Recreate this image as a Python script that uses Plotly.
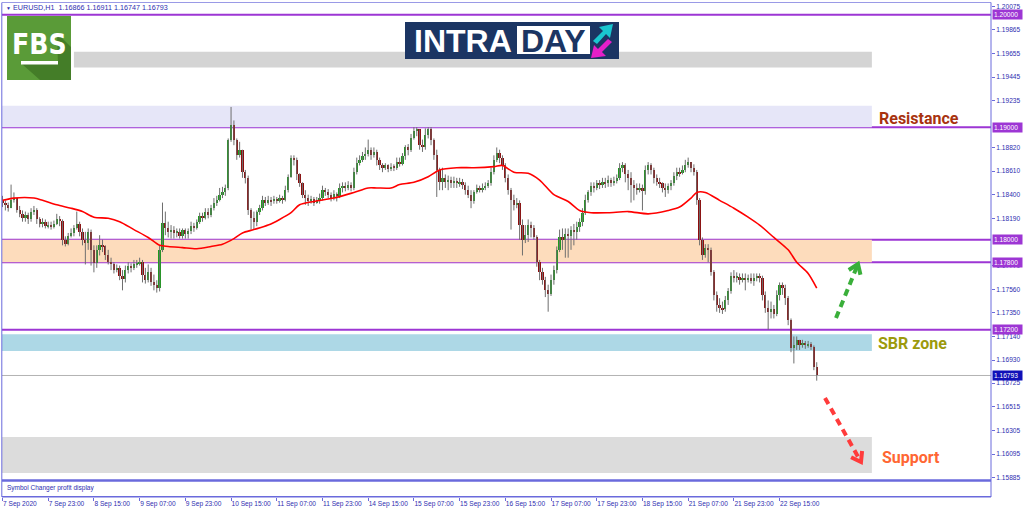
import math
import plotly.graph_objects as go

W, H = 1024, 511

# ---------------- data ----------------
OPEN_FIRST = 1.1835
CLOSE = [
    1.1833, 1.1831, 1.1828, 1.1835, 1.1837, 1.1826, 1.1823, 1.1819, 1.1822, 1.1818,
    1.1825, 1.1826, 1.1818, 1.1814, 1.1816, 1.1812, 1.1813, 1.1811, 1.1814, 1.1818,
    1.1817, 1.1800, 1.1796, 1.1803, 1.1806, 1.1810, 1.1814, 1.1807, 1.1800, 1.1797,
    1.1807, 1.1791, 1.1779, 1.1791, 1.1795, 1.1794, 1.1786, 1.1780, 1.1778, 1.1773,
    1.1775, 1.1768, 1.1765, 1.1773, 1.1777, 1.1775, 1.1778, 1.1778, 1.1780, 1.1769,
    1.1764, 1.1771, 1.1762, 1.1760, 1.1757, 1.1791, 1.1815, 1.1810, 1.1807, 1.1809,
    1.1806, 1.1807, 1.1803, 1.1809, 1.1805, 1.1808, 1.1812, 1.1810, 1.1816, 1.1821,
    1.1819, 1.1825, 1.1822, 1.1828, 1.1833, 1.1835, 1.1840, 1.1842, 1.1846, 1.1889,
    1.1902, 1.1889, 1.1875, 1.1880, 1.1860, 1.1855, 1.1826, 1.1819, 1.1816, 1.1825,
    1.1828, 1.1835, 1.1833, 1.1835, 1.1834, 1.1836, 1.1834, 1.1837, 1.1835, 1.1844,
    1.1856, 1.1873, 1.1871, 1.1858, 1.1850, 1.1840, 1.1837, 1.1834, 1.1836, 1.1833,
    1.1835, 1.1837, 1.1844, 1.1842, 1.1840, 1.1837, 1.1841, 1.1839, 1.1846, 1.1848,
    1.1846, 1.1849, 1.1846, 1.1860, 1.1868, 1.1871, 1.1874, 1.1876, 1.1880, 1.1875,
    1.1878, 1.1871, 1.1866, 1.1864, 1.1866, 1.1863, 1.1865, 1.1864, 1.1869, 1.1867,
    1.1874, 1.1882, 1.1880, 1.1890, 1.1897, 1.1898, 1.1884, 1.1882, 1.1893, 1.1898,
    1.1889, 1.1875, 1.1862, 1.1851, 1.1855, 1.1851, 1.1853, 1.1850, 1.1852, 1.1850,
    1.1851, 1.1849, 1.1844, 1.1840, 1.1834, 1.1842, 1.1846, 1.1844, 1.1846, 1.1848,
    1.1850, 1.1860, 1.1871, 1.1877, 1.1873, 1.1866, 1.1855, 1.1844, 1.1835, 1.1831,
    1.1833, 1.1813, 1.1800, 1.1804, 1.1813, 1.1810, 1.1802, 1.1780, 1.1771, 1.1764,
    1.1755, 1.1752, 1.1764, 1.1773, 1.1791, 1.1802, 1.1800, 1.1805, 1.1803, 1.1809,
    1.1807, 1.1811, 1.1816, 1.1824, 1.1835, 1.1842, 1.1848, 1.1846, 1.1850, 1.1849,
    1.1851, 1.1850, 1.1853, 1.1850, 1.1852, 1.1855, 1.1864, 1.1866, 1.1858, 1.1855,
    1.1849, 1.1846, 1.1844, 1.1846, 1.1843, 1.1862, 1.1866, 1.1862, 1.1855, 1.1851,
    1.1850, 1.1846, 1.1844, 1.1848, 1.1850, 1.1857, 1.1860, 1.1859, 1.1862, 1.1866,
    1.1869, 1.1864, 1.1860, 1.1835, 1.1800, 1.1786, 1.1793, 1.1791, 1.1771, 1.1751,
    1.1742, 1.1739, 1.1738, 1.1746, 1.1754, 1.1768, 1.1766, 1.1767, 1.1764, 1.1766,
    1.1764, 1.1766, 1.1763, 1.1766, 1.1767, 1.1766, 1.1751, 1.1739, 1.1736, 1.1738,
    1.1734, 1.1751, 1.1760, 1.1757, 1.1748, 1.1729, 1.1704, 1.1706, 1.1711, 1.1706,
    1.1708, 1.1706, 1.1707, 1.1705, 1.16866, 1.16793,
]
HIGH = [
    1.1839, 1.1835, 1.1833, 1.1849, 1.1842, 1.1837, 1.1830, 1.1826, 1.1825, 1.1824,
    1.1828, 1.1830, 1.1828, 1.1820, 1.1819, 1.1818, 1.1816, 1.1816, 1.1817, 1.1823,
    1.1821, 1.1818, 1.1803, 1.1806, 1.1810, 1.1813, 1.1825, 1.1816, 1.1810, 1.1807,
    1.1810, 1.1809, 1.1795, 1.1795, 1.1804, 1.1800, 1.1795, 1.1791, 1.1784, 1.1780,
    1.1778, 1.1777, 1.1773, 1.1777, 1.1780, 1.1779, 1.1782, 1.1782, 1.1784, 1.1782,
    1.1775, 1.1778, 1.1775, 1.1769, 1.1764, 1.1795, 1.1833, 1.1825, 1.1816, 1.1813,
    1.1812, 1.1810, 1.1810, 1.1810, 1.1810, 1.1810, 1.1816, 1.1815, 1.1818, 1.1824,
    1.1824, 1.1828, 1.1828, 1.1831, 1.1837, 1.1839, 1.1846, 1.1847, 1.1849, 1.1890,
    1.1918, 1.1906, 1.1890, 1.1887, 1.1880, 1.1862, 1.1857, 1.1828, 1.1825, 1.1826,
    1.1831, 1.1839, 1.1838, 1.1839, 1.1838, 1.1839, 1.1838, 1.1840, 1.1839, 1.1848,
    1.1858, 1.1875, 1.1875, 1.1873, 1.1859, 1.1851, 1.1844, 1.1840, 1.1839, 1.1838,
    1.1838, 1.1841, 1.1848, 1.1846, 1.1845, 1.1842, 1.1844, 1.1842, 1.1850, 1.1851,
    1.1851, 1.1852, 1.1851, 1.1864, 1.1873, 1.1875, 1.1878, 1.1882, 1.1889, 1.1882,
    1.1882, 1.1880, 1.1873, 1.1868, 1.1868, 1.1867, 1.1868, 1.1867, 1.1873, 1.1873,
    1.1877, 1.1884, 1.1885, 1.1894, 1.1900, 1.1900, 1.1898, 1.1889, 1.1899, 1.1900,
    1.1900, 1.1890, 1.1880, 1.1864, 1.1864, 1.1858, 1.1857, 1.1856, 1.1856, 1.1855,
    1.1855, 1.1854, 1.1851, 1.1848, 1.1844, 1.1844, 1.1849, 1.1848, 1.1850, 1.1851,
    1.1853, 1.1864, 1.1875, 1.1882, 1.1880, 1.1875, 1.1868, 1.1858, 1.1846, 1.1840,
    1.1837, 1.1835, 1.1818, 1.1813, 1.1818, 1.1816, 1.1813, 1.1804, 1.1782, 1.1775,
    1.1767, 1.1760, 1.1769, 1.1777, 1.1794, 1.1809, 1.1810, 1.1810, 1.1810, 1.1812,
    1.1814, 1.1816, 1.1819, 1.1828, 1.1840, 1.1844, 1.1851, 1.1851, 1.1853, 1.1853,
    1.1855, 1.1855, 1.1857, 1.1855, 1.1856, 1.1858, 1.1868, 1.1869, 1.1868, 1.1862,
    1.1860, 1.1853, 1.1850, 1.1850, 1.1849, 1.1866, 1.1869, 1.1868, 1.1864, 1.1858,
    1.1855, 1.1851, 1.1850, 1.1850, 1.1853, 1.1860, 1.1864, 1.1864, 1.1866, 1.1871,
    1.1873, 1.1869, 1.1867, 1.1862, 1.1837, 1.1802, 1.1796, 1.1796, 1.1793, 1.1773,
    1.1754, 1.1748, 1.1745, 1.1750, 1.1757, 1.1771, 1.1773, 1.1771, 1.1770, 1.1770,
    1.1770, 1.1769, 1.1770, 1.1770, 1.1770, 1.1770, 1.1768, 1.1754, 1.1746, 1.1745,
    1.1742, 1.1755, 1.1762, 1.1762, 1.1760, 1.1750, 1.1730, 1.1714, 1.1714, 1.1711,
    1.1711, 1.1710, 1.1710, 1.1709, 1.1706, 1.16911,
]
LOW = [
    1.1829, 1.1826, 1.1825, 1.1828, 1.1833, 1.1824, 1.1820, 1.1816, 1.1816, 1.1814,
    1.1816, 1.1822, 1.1814, 1.1811, 1.1811, 1.1810, 1.1810, 1.1809, 1.1810, 1.1813,
    1.1812, 1.1795, 1.1794, 1.1795, 1.1802, 1.1803, 1.1809, 1.1803, 1.1795, 1.1778,
    1.1791, 1.1777, 1.1771, 1.1775, 1.1786, 1.1789, 1.1782, 1.1778, 1.1773, 1.1770,
    1.1771, 1.1764, 1.1755, 1.1762, 1.1770, 1.1771, 1.1773, 1.1775, 1.1777, 1.1762,
    1.1761, 1.1762, 1.1759, 1.1755, 1.1753, 1.1754, 1.1789, 1.1804, 1.1802, 1.1801,
    1.1801, 1.1802, 1.1801, 1.1801, 1.1801, 1.1801, 1.1805, 1.1807, 1.1809, 1.1814,
    1.1816, 1.1818, 1.1819, 1.1820, 1.1826, 1.1830, 1.1834, 1.1837, 1.1839, 1.1844,
    1.1887, 1.1884, 1.1871, 1.1873, 1.1855, 1.1850, 1.1822, 1.1809, 1.1809, 1.1812,
    1.1822, 1.1826, 1.1830, 1.1831, 1.1830, 1.1832, 1.1832, 1.1833, 1.1832, 1.1834,
    1.1842, 1.1855, 1.1866, 1.1853, 1.1847, 1.1837, 1.1831, 1.1830, 1.1832, 1.1830,
    1.1832, 1.1832, 1.1835, 1.1839, 1.1837, 1.1834, 1.1835, 1.1834, 1.1837, 1.1842,
    1.1843, 1.1844, 1.1843, 1.1844, 1.1858, 1.1866, 1.1869, 1.1871, 1.1874, 1.1871,
    1.1873, 1.1866, 1.1862, 1.1860, 1.1862, 1.1860, 1.1861, 1.1861, 1.1862, 1.1865,
    1.1866, 1.1871, 1.1875, 1.1878, 1.1889, 1.1892, 1.1880, 1.1878, 1.1880, 1.1890,
    1.1884, 1.1871, 1.1838, 1.1844, 1.1844, 1.1846, 1.1844, 1.1846, 1.1846, 1.1846,
    1.1847, 1.1845, 1.1840, 1.1837, 1.1828, 1.1832, 1.1841, 1.1842, 1.1842, 1.1844,
    1.1846, 1.1848, 1.1858, 1.1869, 1.1868, 1.1862, 1.1851, 1.1840, 1.1809, 1.1826,
    1.1828, 1.1800, 1.1786, 1.1797, 1.1798, 1.1802, 1.1800, 1.1776, 1.1764, 1.1760,
    1.1749, 1.1736, 1.1750, 1.1760, 1.1770, 1.1789, 1.1791, 1.1784, 1.1784, 1.1791,
    1.1795, 1.1800, 1.1807, 1.1812, 1.1822, 1.1833, 1.1839, 1.1842, 1.1844, 1.1845,
    1.1846, 1.1846, 1.1847, 1.1847, 1.1848, 1.1850, 1.1853, 1.1860, 1.1851, 1.1844,
    1.1833, 1.1835, 1.1840, 1.1842, 1.1826, 1.1840, 1.1858, 1.1858, 1.1850, 1.1848,
    1.1846, 1.1842, 1.1838, 1.1841, 1.1844, 1.1848, 1.1853, 1.1856, 1.1858, 1.1860,
    1.1864, 1.1860, 1.1857, 1.1831, 1.1795, 1.1782, 1.1784, 1.1780, 1.1768, 1.1746,
    1.1736, 1.1735, 1.1734, 1.1736, 1.1742, 1.1752, 1.1762, 1.1762, 1.1760, 1.1762,
    1.1755, 1.1762, 1.1761, 1.1759, 1.1763, 1.1762, 1.1746, 1.1735, 1.1720, 1.1730,
    1.1730, 1.1732, 1.1746, 1.1751, 1.1742, 1.1724, 1.1700, 1.1690, 1.1702, 1.1702,
    1.1704, 1.1703, 1.1704, 1.1702, 1.1684, 1.16747,
]

MA_BARS = [0, 4, 11, 14, 19, 24, 28, 32, 37, 41, 46, 51, 55, 58, 63, 68, 73, 77, 81, 84,
           88, 93, 97, 101, 104, 109, 116, 123, 128, 131, 136, 139, 144, 149, 153, 159,
           165, 172, 175, 179, 184, 188, 193, 198, 202, 206, 212, 219, 226, 233, 237,
           241, 243, 246, 251, 256, 261, 265, 270, 275, 278, 282, 285]
MA_VALUES = [1.1835, 1.1837, 1.1837, 1.1835, 1.1831, 1.1828, 1.1825, 1.1820, 1.1819, 1.1816,
             1.1809, 1.1802, 1.1795, 1.1794, 1.1793, 1.1792, 1.1794, 1.1796, 1.1801, 1.1806,
             1.1809, 1.1813, 1.1818, 1.1824, 1.1831, 1.1834, 1.1837, 1.1842, 1.1846, 1.1846,
             1.1846, 1.1849, 1.1851, 1.1856, 1.1862, 1.1864, 1.1864, 1.1865, 1.1866, 1.1860,
             1.1859, 1.1853, 1.1840, 1.1834, 1.1826, 1.1824, 1.1824, 1.1825, 1.1823, 1.1826,
             1.1829, 1.1837, 1.1842, 1.1842, 1.1835, 1.1828, 1.1820, 1.1813, 1.1802, 1.1791,
             1.1780, 1.1770, 1.1757]

LEVELS = [1.20000, 1.19000, 1.18000, 1.17800, 1.17200]
LAST_PRICE = 1.16793
HEADER_SYMBOL = "EURUSD,H1"
HEADER_OHLC = [1.16866, 1.16911, 1.16747, 1.16793]

ZONE_TOP_GREY = (1.1953, 1.1967)
ZONE_RESIST = (1.1900, 1.1919)
ZONE_PIVOT = (1.1780, 1.1800)
ZONE_SBR = (1.1701, 1.1716)
ZONE_SUPPORT = (1.15926, 1.16246)

Y_TICKS = [1.20075, 1.19865, 1.19655, 1.19445, 1.19235, 1.18820, 1.18610,
           1.18400, 1.18190, 1.17770, 1.17560, 1.17350, 1.17140, 1.16930,
           1.16725, 1.16515, 1.16305, 1.16095, 1.15885]
X_TICK_BARS = [0, 16, 32, 48, 64, 80, 96, 112, 128, 144, 160, 176, 192, 208, 224, 240, 256, 272]
X_TICK_TEXT = ["7 Sep 2020", "7 Sep 23:00", "8 Sep 15:00", "9 Sep 07:00", "9 Sep 23:00",
               "10 Sep 15:00", "11 Sep 07:00", "11 Sep 23:00", "14 Sep 15:00", "15 Sep 07:00",
               "15 Sep 23:00", "16 Sep 15:00", "17 Sep 07:00", "17 Sep 23:00", "18 Sep 15:00",
               "21 Sep 07:00", "21 Sep 23:00", "22 Sep 15:00"]

# ---------------- styles / geometry ----------------
X_RANGE = [-0.175, 346.0]
Y_RANGE = [1.158729, 1.201040]
ZONE_START_TOP_GREY = 25.0
ZONE_END = 304.3

C_FRAME = "#6a6adc"
C_TEXT = "#2e2eb0"
C_LEVEL = "#9d36d4"
C_UP = "#1f9a1f"
C_DN = "#8e0c0c"
C_WICK = "#6e6e6e"


def PX(x):
    return x / W


def PY(y):
    return 1 - y / H


N = len(CLOSE)
OPEN = [OPEN_FIRST] + CLOSE[:-1]
IDX = list(range(N))

wx, wy = [], []
for i in IDX:
    lo = min(LOW[i], OPEN[i], CLOSE[i])
    hi = max(HIGH[i], OPEN[i], CLOSE[i])
    wx += [i, i, None]
    wy += [lo, hi, None]

MIN_BODY = 0.00009
up_x, up_b, up_h, dn_x, dn_b, dn_h = [], [], [], [], [], []
for i in IDX:
    o, c = OPEN[i], CLOSE[i]
    base = min(o, c)
    hgt = max(abs(c - o), MIN_BODY)
    if c >= o:
        up_x.append(i); up_b.append(base); up_h.append(hgt)
    else:
        dn_x.append(i); dn_b.append(base); dn_h.append(hgt)

fig = go.Figure()
fig.add_trace(go.Scatter(x=wx, y=wy, mode="lines", line=dict(color=C_WICK, width=1),
                         hoverinfo="skip", showlegend=False))
fig.add_trace(go.Bar(x=up_x, y=up_h, base=up_b, width=0.8, marker=dict(color=C_UP, line=dict(width=0)),
                     showlegend=False))
fig.add_trace(go.Bar(x=dn_x, y=dn_h, base=dn_b, width=0.8, marker=dict(color=C_DN, line=dict(width=0)),
                     showlegend=False))
fig.add_trace(go.Scatter(x=MA_BARS, y=MA_VALUES, mode="lines",
                         line=dict(color="#ff0000", width=1.6, shape="spline", smoothing=0.8),
                         hoverinfo="skip", showlegend=False))
# empty indicator sub-window
fig.add_trace(go.Scatter(x=[None], y=[None], xaxis="x2", yaxis="y2", showlegend=False))

shapes = []
for (lo, hi), x0, col in [(ZONE_TOP_GREY, ZONE_START_TOP_GREY, "#d4d4d4"),
                          (ZONE_RESIST, X_RANGE[0], "#e6e6f8"),
                          (ZONE_PIVOT, X_RANGE[0], "#fddcbc"),
                          (ZONE_SBR, X_RANGE[0], "#add8e6"),
                          (ZONE_SUPPORT, X_RANGE[0], "#dcdcdc")]:
    shapes.append(dict(type="rect", xref="x", yref="y", x0=x0, x1=ZONE_END, y0=lo, y1=hi,
                       fillcolor=col, line=dict(width=0), layer="below"))
shapes.append(dict(type="line", xref="x domain", yref="y", x0=0, x1=1, y0=LAST_PRICE, y1=LAST_PRICE,
                   line=dict(color="#b4b4b4", width=1), layer="below"))
for v in LEVELS:
    shapes.append(dict(type="line", xref="x domain", yref="y", x0=0, x1=1, y0=v, y1=v,
                       line=dict(color=C_LEVEL, width=2), layer="below"))


def pline(x0, y0, x1, y1, color=C_FRAME, width=1):
    return dict(type="line", xref="paper", yref="paper", x0=PX(x0), y0=PY(y0), x1=PX(x1), y1=PY(y1),
                line=dict(color=color, width=width), layer="above")

shapes += [
    pline(2, 2.5, 991, 2.5, "#9a9ae6", 1),
    pline(1.8, 2.5, 1.8, 497),
    pline(991, 2.5, 991, 497),
    pline(2, 480.5, 991, 480.5, C_FRAME, 2.5),
    pline(2, 496.8, 991, 496.8, C_FRAME, 1.5),
]


def arrow(x0, y0, x1, y1, color):
    dx, dy = x1 - x0, y1 - y0
    L = math.hypot(dx, dy)
    ux, uy = dx / L, dy / L
    out = [dict(type="line", xref="paper", yref="paper", x0=PX(x0), y0=PY(y0),
                x1=PX(x1 - ux * 3), y1=PY(y1 - uy * 3),
                line=dict(color=color, width=4, dash="7px,5px"), layer="above")]
    arms = []
    for ang in (35, -35):
        a = math.radians(ang)
        bx, by = -ux, -uy
        rx = bx * math.cos(a) - by * math.sin(a)
        ry = bx * math.sin(a) + by * math.cos(a)
        arms.append((x1 + rx * 11, y1 + ry * 11))
    path = "M {:.5f},{:.5f} L {:.5f},{:.5f} L {:.5f},{:.5f}".format(
        PX(arms[0][0]), PY(arms[0][1]), PX(x1), PY(y1), PX(arms[1][0]), PY(arms[1][1]))
    out.append(dict(type="path", xref="paper", yref="paper", path=path,
                    line=dict(color=color, width=4), layer="above"))
    return out

shapes += arrow(836, 318, 858, 264, "#3aaf3a")
shapes += arrow(825, 398, 861, 462, "#ff3b3b")


def prect(x0, y0, x1, y1, fill):
    return dict(type="rect", xref="paper", yref="paper", x0=PX(x0), y0=PY(y1), x1=PX(x1), y1=PY(y0),
                fillcolor=fill, line=dict(width=0), layer="above")


def ppath(pts, fill):
    d = "M " + " L ".join("{:.5f},{:.5f}".format(PX(x), PY(y)) for x, y in pts) + " Z"
    return dict(type="path", xref="paper", yref="paper", path=d, fillcolor=fill,
                line=dict(width=0), layer="above")

# FBS logo
shapes.append(prect(7, 16, 71, 80, "#5a9b38"))
shapes.append(ppath([(57, 33), (71, 47), (71, 80), (40, 80), (22, 64), (58, 64)], "#447d28"))
shapes.append(prect(21, 61, 58, 64.5, "#ffffff"))
# INTRADAY logo
shapes.append(prect(405, 22, 619, 59, "#1b3563"))
shapes.append(prect(517, 26, 590, 54, "#ffffff"))
shapes.append(ppath([(593, 41), (603, 31), (599, 27), (613, 24), (610, 38), (606, 34), (597, 44)], "#19c6cf"))
shapes.append(ppath([(612, 42), (602, 52), (606, 56), (591, 58), (594, 45), (598, 49), (608, 39)], "#e51fc9"))

annotations = []
annotations.append(dict(xref="paper", yref="paper", x=PX(4), y=PY(7.5), xanchor="left", yanchor="middle",
                        text="<span style='font-size:5px'>▼</span> " + HEADER_SYMBOL + "  " +
                             " ".join("{:.5f}".format(v) for v in HEADER_OHLC),
                        showarrow=False, font=dict(family="Liberation Sans, Arial", size=7.2, color=C_TEXT)))
annotations.append(dict(xref="paper", yref="paper", x=PX(4.5), y=PY(488), xanchor="left", yanchor="middle",
                        text="Symbol Changer profit display", showarrow=False,
                        font=dict(family="Liberation Sans, Arial", size=6.5, color=C_TEXT)))
for v in LEVELS:
    annotations.append(dict(xref="paper", yref="y", x=PX(992), y=v, xanchor="left", yanchor="middle",
                            text="{:.5f}".format(v), showarrow=False, bgcolor=C_LEVEL, borderpad=1,
                            width=27, align="left",
                            font=dict(family="Liberation Sans, Arial", size=6.6, color="#ffffff")))
annotations.append(dict(xref="paper", yref="y", x=PX(992), y=LAST_PRICE, xanchor="left", yanchor="middle",
                        text="{:.5f}".format(LAST_PRICE), showarrow=False, bgcolor="#1010b8", borderpad=1,
                        width=27, align="left",
                        font=dict(family="Liberation Sans, Arial", size=6.6, color="#ffffff")))
for txt, x, y, col in [("Resistance", 877, 118, "#a8330f"), ("SBR zone", 876, 343, "#9c9a0c"),
                       ("Support", 880, 457, "#ff6633")]:
    annotations.append(dict(xref="paper", yref="paper", x=PX(x), y=PY(y), xanchor="left", yanchor="middle",
                            text="<b>" + txt + "</b>", showarrow=False,
                            font=dict(family="Roboto, Liberation Sans", size=16, color=col)))
annotations.append(dict(xref="paper", yref="paper", x=PX(39.5), y=PY(44), xanchor="center", yanchor="middle",
                        text="<b>FBS</b>", showarrow=False,
                        font=dict(family="Liberation Sans Narrow, DejaVu Sans Condensed, Liberation Sans",
                                  size=28, color="#ffffff")))
annotations.append(dict(xref="paper", yref="paper", x=PX(463), y=PY(41), xanchor="center", yanchor="middle",
                        text="<b>INTRA</b>", showarrow=False,
                        font=dict(family="Liberation Sans, Arial", size=32, color="#ffffff")))
annotations.append(dict(xref="paper", yref="paper", x=PX(553.5), y=PY(41), xanchor="center", yanchor="middle",
                        text="<b>DAY</b>", showarrow=False,
                        font=dict(family="Liberation Sans, Arial", size=32, color="#1b3563")))

fig.update_layout(
    width=W, height=H, margin=dict(l=0, r=0, t=0, b=0, autoexpand=False),
    paper_bgcolor="#ffffff", plot_bgcolor="#ffffff",
    barmode="overlay", bargap=0, showlegend=False,
    xaxis=dict(domain=[PX(2), PX(991)], range=X_RANGE, visible=False, fixedrange=True, automargin=False),
    yaxis=dict(domain=[PY(479), PY(3)], range=Y_RANGE, side="right", anchor="x", automargin=False,
               tickmode="array", tickvals=Y_TICKS, ticktext=["{:.5f}".format(v) for v in Y_TICKS],
               ticks="outside", ticklen=3, tickwidth=1, tickcolor=C_FRAME,
               tickfont=dict(family="Liberation Sans, Arial", size=6.6, color=C_TEXT),
               showgrid=False, zeroline=False, showline=False),
    xaxis2=dict(domain=[PX(2), PX(991)], anchor="y2", matches="x", range=X_RANGE, automargin=False,
                tickmode="array", tickvals=X_TICK_BARS, ticktext=X_TICK_TEXT, tickangle=0,
                ticks="outside", ticklen=3, tickwidth=1, tickcolor=C_FRAME,
                ticklabelposition="outside right",
                tickfont=dict(family="Liberation Sans, Arial", size=6.6, color=C_TEXT),
                showgrid=False, zeroline=False, showline=False),
    yaxis2=dict(domain=[PY(496.8), PY(481.5)], range=[0, 1], visible=False, automargin=False),
    shapes=shapes, annotations=annotations,
)

fig.write_html("out.html", config={"displayModeBar": False},
               post_script="document.body.style.margin='0';document.body.style.padding='0';"
                           "document.body.style.overflow='hidden';")
